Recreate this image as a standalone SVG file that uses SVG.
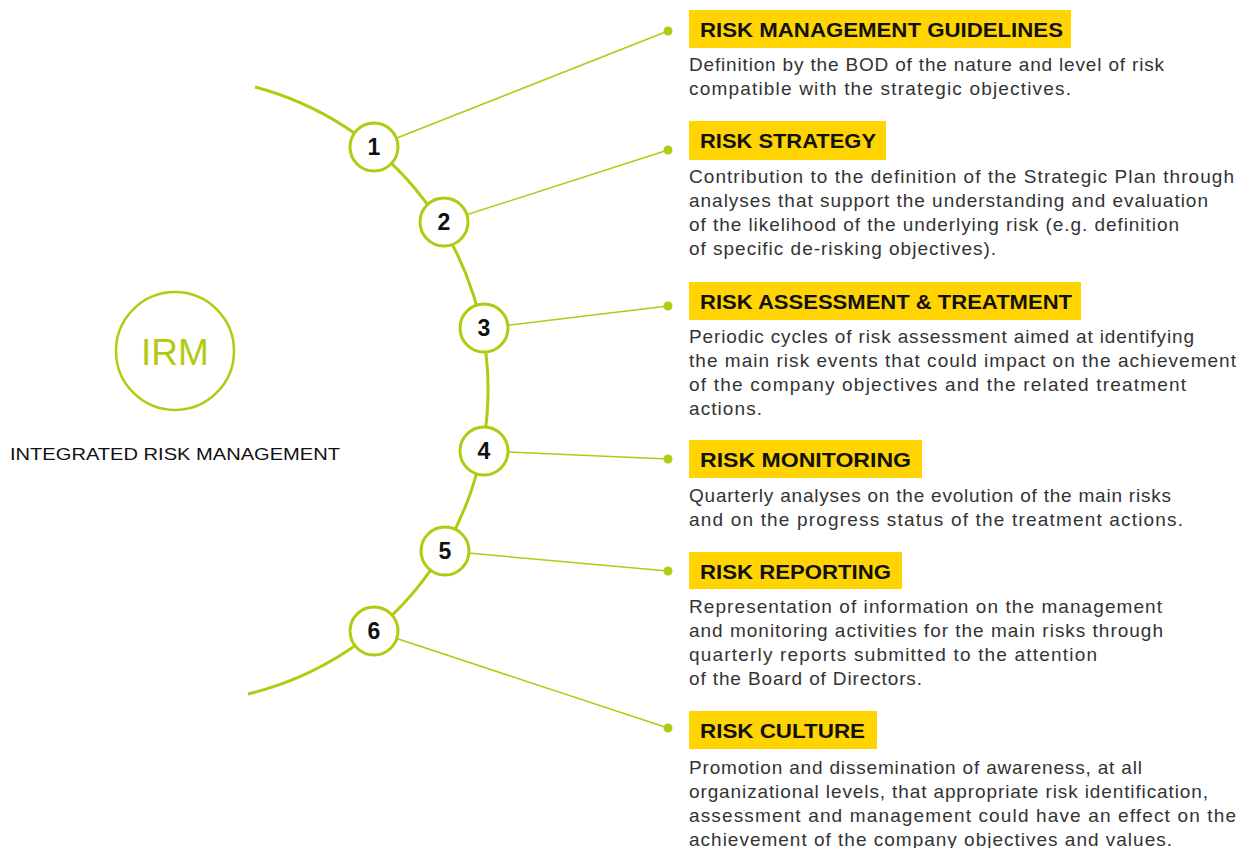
<svg xmlns="http://www.w3.org/2000/svg" width="1239" height="848" viewBox="0 0 1239 848">
<style>
.arc{fill:none;stroke:#b3c912;stroke-width:3}
.conn{stroke:#b3c912;stroke-width:1.5;fill:none}
.dot{fill:#b3c912}
.num{fill:#fff;stroke:#b3c912;stroke-width:3}
.numt{font-family:"Liberation Sans",Arial,sans-serif;font-size:23px;font-weight:bold;fill:#111;text-anchor:middle}
.lab{fill:#ffd400}
.labt{font-family:"Liberation Sans",Arial,sans-serif;font-size:20px;font-weight:bold;fill:#111}
.body{font-family:"Liberation Sans",Arial,sans-serif;font-size:19px;fill:#333}
</style>
<rect width="1239" height="848" fill="#fff"/>
<g id="connectors">
<path class="arc" d="M255,87 A313,313 0 0 1 248,694"/>
<line class="conn" x1="374" y1="147" x2="668" y2="31"/>
<line class="conn" x1="444" y1="222" x2="668" y2="150"/>
<line class="conn" x1="484" y1="328" x2="668" y2="306"/>
<line class="conn" x1="484" y1="451" x2="668" y2="459"/>
<line class="conn" x1="445" y1="551" x2="668" y2="571"/>
<line class="conn" x1="374" y1="631" x2="668" y2="728"/>
<circle class="dot" cx="668" cy="31" r="4.5"/>
<circle class="dot" cx="668" cy="150" r="4.5"/>
<circle class="dot" cx="668" cy="306" r="4.5"/>
<circle class="dot" cx="668" cy="459" r="4.5"/>
<circle class="dot" cx="668" cy="571" r="4.5"/>
<circle class="dot" cx="668" cy="728" r="4.5"/>
</g>
<g id="irm">
<circle cx="175" cy="351" r="59" fill="none" stroke="#b3c912" stroke-width="2.5"/>
<text x="175" y="365" font-family="Liberation Sans,Arial,sans-serif" font-size="37" fill="#b3c912" text-anchor="middle">IRM</text>
<text x="10" y="460" font-family="Liberation Sans,Arial,sans-serif" font-size="17" fill="#111" textLength="330" lengthAdjust="spacingAndGlyphs">INTEGRATED RISK MANAGEMENT</text>
</g>
<g id="n1"><circle class="num" cx="374" cy="147" r="24"/><text class="numt" x="374" y="155">1</text></g>
<g id="n2"><circle class="num" cx="444" cy="222" r="24"/><text class="numt" x="444" y="230">2</text></g>
<g id="n3"><circle class="num" cx="484" cy="328" r="24"/><text class="numt" x="484" y="336">3</text></g>
<g id="n4"><circle class="num" cx="484" cy="451" r="24"/><text class="numt" x="484" y="459">4</text></g>
<g id="n5"><circle class="num" cx="445" cy="551" r="24"/><text class="numt" x="445" y="559">5</text></g>
<g id="n6"><circle class="num" cx="374" cy="631" r="24"/><text class="numt" x="374" y="639">6</text></g>
<g id="b1">
<rect class="lab" x="689" y="10" width="382" height="38"/>
<text class="labt" x="700" y="37" textLength="363" lengthAdjust="spacingAndGlyphs">RISK MANAGEMENT GUIDELINES</text>
<text class="body" x="689" y="71" textLength="475" lengthAdjust="spacing">Definition by the BOD of the nature and level of risk</text>
<text class="body" x="689" y="95" textLength="382" lengthAdjust="spacing">compatible with the strategic objectives.</text>
</g>
<g id="b2">
<rect class="lab" x="689" y="121" width="197" height="39"/>
<text class="labt" x="700" y="148" textLength="176" lengthAdjust="spacingAndGlyphs">RISK STRATEGY</text>
<text class="body" x="689" y="183" textLength="545" lengthAdjust="spacing">Contribution to the definition of the Strategic Plan through</text>
<text class="body" x="689" y="207" textLength="519" lengthAdjust="spacing">analyses that support the understanding and evaluation</text>
<text class="body" x="689" y="231" textLength="490" lengthAdjust="spacing">of the likelihood of the underlying risk (e.g. definition</text>
<text class="body" x="689" y="255" textLength="307" lengthAdjust="spacing">of specific de-risking objectives).</text>
</g>
<g id="b3">
<rect class="lab" x="689" y="282" width="392" height="38"/>
<text class="labt" x="700" y="309" textLength="372" lengthAdjust="spacingAndGlyphs">RISK ASSESSMENT &amp; TREATMENT</text>
<text class="body" x="689" y="343" textLength="505" lengthAdjust="spacing">Periodic cycles of risk assessment aimed at identifying</text>
<text class="body" x="689" y="367" textLength="547" lengthAdjust="spacing">the main risk events that could impact on the achievement</text>
<text class="body" x="689" y="391" textLength="497" lengthAdjust="spacing">of the company objectives and the related treatment</text>
<text class="body" x="689" y="415" textLength="73" lengthAdjust="spacing">actions.</text>
</g>
<g id="b4">
<rect class="lab" x="689" y="440" width="233" height="38"/>
<text class="labt" x="700" y="467" textLength="211" lengthAdjust="spacingAndGlyphs">RISK MONITORING</text>
<text class="body" x="689" y="502" textLength="482" lengthAdjust="spacing">Quarterly analyses on the evolution of the main risks</text>
<text class="body" x="689" y="526" textLength="494" lengthAdjust="spacing">and on the progress status of the treatment actions.</text>
</g>
<g id="b5">
<rect class="lab" x="689" y="552" width="213" height="37"/>
<text class="labt" x="700" y="579" textLength="191" lengthAdjust="spacingAndGlyphs">RISK REPORTING</text>
<text class="body" x="689" y="613" textLength="473" lengthAdjust="spacing">Representation of information on the management</text>
<text class="body" x="689" y="637" textLength="474" lengthAdjust="spacing">and monitoring activities for the main risks through</text>
<text class="body" x="689" y="661" textLength="408" lengthAdjust="spacing">quarterly reports submitted to the attention</text>
<text class="body" x="689" y="685" textLength="233" lengthAdjust="spacing">of the Board of Directors.</text>
</g>
<g id="b6">
<rect class="lab" x="689" y="711" width="188" height="38"/>
<text class="labt" x="700" y="738" textLength="165" lengthAdjust="spacingAndGlyphs">RISK CULTURE</text>
<text class="body" x="689" y="774" textLength="453" lengthAdjust="spacing">Promotion and dissemination of awareness, at all</text>
<text class="body" x="689" y="798" textLength="519" lengthAdjust="spacing">organizational levels, that appropriate risk identification,</text>
<text class="body" x="689" y="822" textLength="547" lengthAdjust="spacing">assessment and management could have an effect on the</text>
<text class="body" x="689" y="846" textLength="483" lengthAdjust="spacing">achievement of the company objectives and values.</text>
</g>
</svg>
